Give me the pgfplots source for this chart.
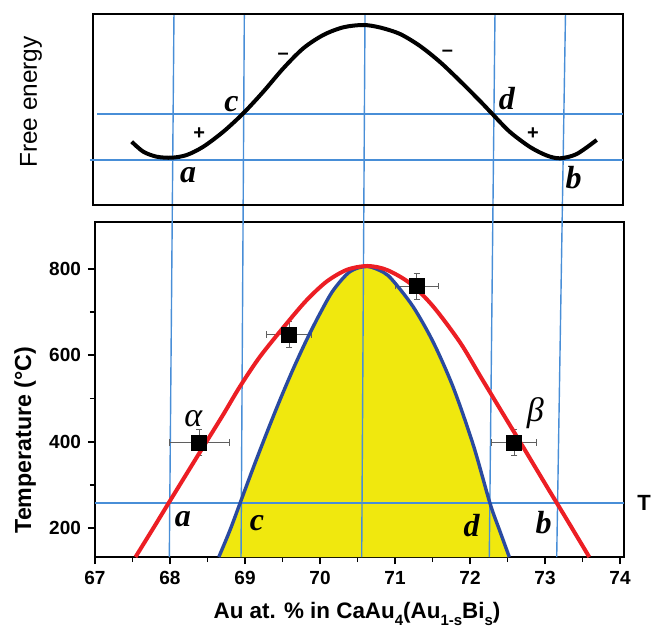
\documentclass[border=0pt]{standalone}
\usepackage{pgfplots}
\pgfplotsset{compat=1.18}
\usepackage{fontspec}
\setmainfont{Liberation Sans}
\newfontfamily\timesf{Liberation Serif}

\definecolor{curvered}{RGB}{236,30,36}
\definecolor{curveblue}{RGB}{42,74,160}
\definecolor{fillyellow}{RGB}{240,232,14}
\definecolor{guide}{RGB}{72,142,215}
\definecolor{errgray}{RGB}{95,95,95}

% big italic letters on the curves
\newcommand{\lab}[1]{{\fontsize{16}{16}\selectfont\timesf\bfseries\itshape #1}}
\newcommand{\gr}[1]{{\fontsize{17}{17}\selectfont\timesf\itshape #1}}
\newcommand{\sgn}[1]{{\fontsize{10}{10}\selectfont\bfseries #1}}
\newcommand{\sub}[1]{\raisebox{-0.6ex}{\fontsize{7.5}{8}\selectfont #1}}

\begin{document}
\begin{tikzpicture}

% ---- lower panel: T vs composition
\begin{axis}[
    at={(47.5pt,35pt)}, anchor=south west,
    scale only axis, width=264.5pt, height=167.5pt,
    xmin=67, xmax=74.0533, ymin=132.8, ymax=908.9,
    xtick={67,68,...,74}, ytick={200,400,600,800},
    minor x tick num=1, minor y tick num=1,
    tick pos=left, tick align=outside,
    major tick length=3.5pt, minor tick length=2.5pt,
    every tick/.append style={black, line width=0.9pt},
    axis line style={line width=1.4pt},
    ticklabel style={font=\fontsize{9.5}{10}\selectfont\bfseries},
    /pgf/number format/assume math mode=true,
    clip=false,
]
% unstable region under the spinodal
\addplot[draw=none, fill=fillyellow, smooth] coordinates {
    (68.651,132.8) (68.8,195) (68.933,257) (69.111,340) (69.289,420)
    (69.467,497) (69.644,569) (69.822,636) (70.0,697) (70.178,751)
    (70.4,794) (70.63,806) (70.85,792) (70.978,772) (71.244,712)
    (71.511,630) (71.778,525) (72.044,392) (72.267,257) (72.4,192)
    (72.524,132.8)
};
% guide lines (run up through the upper panel)
\addplot[guide, line width=0.7pt] coordinates {(67.991,132.8) (68.053,1390.7)};
\addplot[guide, line width=0.7pt] coordinates {(68.947,132.8) (68.991,1390.7)};
\addplot[guide, line width=0.7pt] coordinates {(70.556,132.8) (70.600,1390.7)};
\addplot[guide, line width=0.7pt] coordinates {(72.257,132.8) (72.333,1390.7)};
\addplot[guide, line width=0.7pt] coordinates {(73.156,132.8) (73.273,1390.7)};
\addplot[guide, line width=0.75pt] coordinates {(67,257.5) (74.0533,257.5)};

% measured points
\addplot[only marks, mark=square*, mark size=3.7pt, black,
    error bars/.cd, x dir=both, x explicit, y dir=both, y explicit,
    error bar style={errgray, line width=0.5pt},
    error mark options={rotate=90, errgray, mark size=1.6pt, line width=0.5pt}]
    coordinates {
    (68.39,398) +- (0.40,30)
    (69.59,648) +- (0.30,30)
    (71.29,760) +- (0.29,30)
    (72.59,398) +- (0.30,30)
};

% spinodal
\addplot[curveblue, line width=1.7pt, smooth] coordinates {
    (68.651,132.8) (68.8,195) (68.933,257) (69.111,340) (69.289,420)
    (69.467,497) (69.644,569) (69.822,636) (70.0,697) (70.178,751)
    (70.4,794) (70.63,806) (70.85,792) (70.978,772) (71.244,712)
    (71.511,630) (71.778,525) (72.044,392) (72.267,257) (72.4,192)
    (72.524,132.8)
};
% binodal
\addplot[curvered, line width=2pt, smooth] coordinates {
    (67.54,132.8) (67.8,206) (68.0,263) (68.4,376) (68.7,460)
    (68.93,527) (69.2,597) (69.556,674) (69.823,728) (70.089,771)
    (70.356,798) (70.63,807) (70.89,798) (71.2,767) (71.51,713)
    (71.867,630) (72.133,553) (72.4,476) (72.7,390) (73.0,303)
    (73.3,217) (73.59,132.8)
};

\node at (axis cs:68.31,453) {\gr{α}};
\node at (axis cs:72.87,466) {\gr{β}};
\node at (axis cs:68.17,220) {\lab{a}};
\node at (axis cs:69.16,212) {\lab{c}};
\node at (axis cs:72.02,206) {\lab{d}};
\node at (axis cs:72.98,213) {\lab{b}};
\end{axis}

% ---- upper panel: free energy curve
\begin{axis}[
    at={(46.5pt,211pt)}, anchor=south west,
    scale only axis, width=265pt, height=95.5pt,
    xmin=66.9733, xmax=74.04, ymin=0, ymax=191,
    ticks=none,
    axis line style={line width=1.3pt},
    clip=false,
]
\addplot[guide, line width=0.7pt] coordinates {(66.93,45) (74.04,45)};
\addplot[guide, line width=0.7pt] coordinates {(67.03,91) (74.04,91)};
\addplot[black, line width=2pt, smooth] coordinates {
    (67.489,63.3) (67.644,53.3) (67.823,48.3) (68.023,47.3) (68.223,50)
    (68.444,58.3) (68.711,73.3) (68.977,91.7) (69.244,113.3) (69.511,136.7)
    (69.777,156.7) (70.044,170) (70.311,177.7) (70.577,180) (70.8,177.5)
    (71.067,171) (71.333,159) (71.6,143) (71.867,124) (72.133,104)
    (72.311,90) (72.533,73) (72.8,58) (73.023,49.5) (73.2,46.7)
    (73.423,51) (73.689,65)
};
\node at (axis cs:68.39,71) {\sgn{+}};
\node at (axis cs:72.84,71) {\sgn{+}};
\node at (axis cs:69.51,149) {\sgn{–}};
\node at (axis cs:71.70,152) {\sgn{–}};
\node at (axis cs:68.82,101) {\lab{c}};
\node at (axis cs:72.49,106) {\lab{d}};
\node at (axis cs:68.24,30) {\lab{a}};
\node at (axis cs:73.38,27) {\lab{b}};
\end{axis}

% axis titles
\node[rotate=90, font=\fontsize{12.2}{12}\selectfont] at (15.5pt,262.5pt) {Free energy};
\node[rotate=90, font=\fontsize{11.6}{12}\selectfont\bfseries] at (12.5pt,93.5pt) {Temperature (°C)};
\node[anchor=base, font=\fontsize{11.2}{12}\selectfont\bfseries] at (178.5pt,4.25pt)
    {Au at. \% in CaAu\sub{4}(Au\sub{1-s}Bi\sub{s})};
\node[anchor=west, inner sep=0pt, font=\fontsize{11}{12}\selectfont\bfseries] at (318.5pt,62pt) {T};

\pgfresetboundingbox
\path[use as bounding box] (0,0) rectangle (325.5pt,313.5pt);
\end{tikzpicture}
\end{document}
